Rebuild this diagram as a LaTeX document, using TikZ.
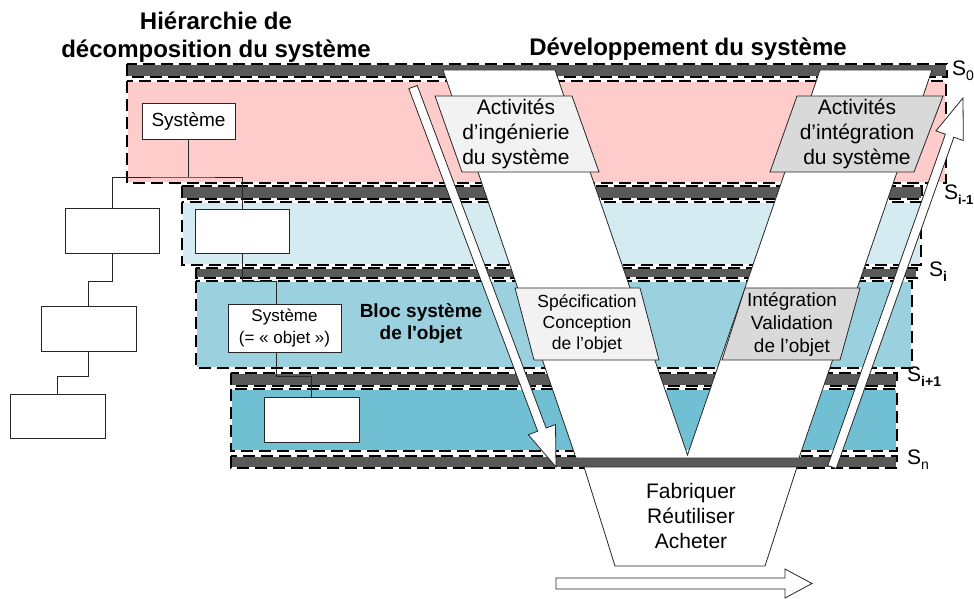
\documentclass[tikz,border=0pt]{standalone}
\usepackage{fontspec}
\setmainfont{Liberation Sans}[Ligatures=TeXOff]
\usetikzlibrary{calc}
\definecolor{bandgray}{RGB}{89,89,89}
\definecolor{pinkband}{RGB}{255,204,204}
\definecolor{lblue}{RGB}{211,235,241}
\definecolor{mblue}{RGB}{155,209,222}
\definecolor{dblue}{RGB}{113,191,210}
\definecolor{boxlight}{RGB}{242,242,242}
\definecolor{boxdark}{RGB}{217,217,217}
\newcommand{\myband}[5]{%
  \fill[#5] (#1,#2) rectangle (#3,#4);
  \draw[white,line width=2pt] (#1,#2) rectangle (#3,#4);
  \draw[black,line width=2pt,dash pattern=on 12pt off 6pt] (#1,#2) rectangle (#3,#4);
}
\newcommand{\mysub}[2]{\raisebox{-5pt}{\fontsize{#1}{#1}\selectfont #2}}
\begin{document}
\begin{tikzpicture}[x=1pt,y=-1pt,
  hbox/.style={draw=black!85,line width=0.8pt,fill=white,inner sep=0pt},
  shapeline/.style={draw=black!85,line width=0.8pt},
  hline/.style={draw=black!85,line width=0.8pt},
  txt/.style={inner sep=0pt,align=center},
  title/.style={txt,font=\fontsize{24}{28}\selectfont\bfseries},
  slab/.style={inner sep=0pt,anchor=west,font=\fontsize{21}{24}\selectfont}]
\useasboundingbox (0,0) rectangle (974,599);

% bands
\myband{127}{64}{947}{77}{bandgray}
\myband{127}{81}{946}{183}{pinkband}
\myband{182}{186}{922}{199}{bandgray}
\myband{182}{202}{921}{265}{lblue}
\myband{196}{268}{917}{278}{bandgray}
\myband{196}{281}{912}{368}{mblue}
\myband{231}{373}{897}{386}{bandgray}
\myband{231}{389}{897}{451}{dblue}
\myband{231}{456}{897}{468}{bandgray}

% V shape
\path[shapeline,fill=white] (443,70) -- (576,458) -- (799,458) -- (932,70) -- (820,70) -- (687.5,455) -- (555,70) -- cycle;

% bottom trapezoid
\path[shapeline,fill=white] (584,467) -- (797,467) -- (765,566) -- (615,566) -- cycle;
\node[txt,font=\fontsize{21}{25}\selectfont] (fab) at (691,516) {Fabriquer\\Réutiliser\\Acheter};

% parallelograms
\path[shapeline,fill=boxlight] (435,96) -- (572,96) -- (599,172) -- (462,172) -- cycle;
\node[txt,font=\fontsize{21}{25}\selectfont] (ingsys) at (516,134) {Activités\\d’ingénierie\\du système};
\path[shapeline,fill=boxdark] (797,96) -- (943,96) -- (914,172) -- (770,172) -- cycle;
\node[txt,font=\fontsize{21}{25}\selectfont] (intsys) at (857,134) {Activités\\d’intégration\\du système};
\path[shapeline,fill=boxlight] (515,288) -- (640,288) -- (659,360) -- (534,360) -- cycle;
\node[txt,font=\fontsize{17.5}{21}\selectfont] (specobj) at (587,324) {Spécification\\Conception\\de l’objet};
\path[shapeline,fill=boxdark] (745,288) -- (860,288) -- (840,360) -- (722,360) -- cycle;
\node[txt,font=\fontsize{19}{23}\selectfont] (intobj) at (792,324) {Intégration\\Validation\\de l’objet};

% hierarchy boxes
\node[hbox,minimum width=93pt,minimum height=36pt,font=\fontsize{19}{22}\selectfont] (sys) at (188.5,121) {Système};
\node[hbox,minimum width=94pt,minimum height=45pt] (L1) at (112,230.5) {};
\node[hbox,minimum width=94pt,minimum height=44pt] (R1) at (242,231) {};
\node[hbox,minimum width=95pt,minimum height=45pt] (L2) at (88.5,328.5) {};
\node[hbox,minimum width=95pt,minimum height=44pt] (L3) at (57.5,416) {};
\node[hbox,minimum width=113pt,minimum height=48pt,align=center,font=\fontsize{17}{22}\selectfont] (obj) at (284.5,328) {Système\\(= « objet »)};
\node[hbox,minimum width=95pt,minimum height=45pt] (R3) at (311.5,419.5) {};

\coordinate (j0) at (188.5,177);
\draw[hline] (sys.south) -- (j0);
\draw[hline] (L1.north) |- (j0) -| (R1.north);
\draw[hline] (L1.south) -- ++(0,28) -| (L2.north);
\draw[hline] (L2.south) -- ++(0,25) -| (L3.north);
\draw[hline] (R1.south) -- ++(0,28) -| ([xshift=-8.5pt]obj.north);
\draw[hline] ([xshift=-8.5pt]obj.south) -- ++(0,24) -| (R3.north);

\node[txt,font=\fontsize{19}{22}\selectfont\bfseries] (bloc) at (421,324) {Bloc système\\de l'objet};

% arrows
\path[shapeline,fill=white] (408.8,88.6) -- (417.2,85.4) -- (546.1,428.0) -- (555.5,424.5) -- (556,467) -- (528.3,434.7) -- (537.7,431.2) -- cycle;
\path[shapeline,fill=white] (827.8,465.5) -- (836.2,468.5) -- (953.9,137.2) -- (963.3,140.6) -- (963,98) -- (935.9,130.9) -- (945.4,134.2) -- cycle;
\path[shapeline,fill=white] (556,578) -- (785,578) -- (785,569) -- (812,583.5) -- (785,598) -- (785,589) -- (556,589) -- cycle;

% titles
\node[title] (t1) at (216,37) {Hiérarchie de\\décomposition du système};
\node[title] (t2) at (688,49) {Développement du système};

% S labels
\node[slab] (s0) at (952,71) {S\mysub{14}{0}};
\node[slab] (si1) at (944,195) {S\mysub{13}{\bfseries i-1}};
\node[slab] (si) at (929,272) {S\mysub{14}{\bfseries i}};
\node[slab] (sip) at (907,377) {S\mysub{14}{\bfseries i+1}};
\node[slab] (sn) at (907,460) {S\mysub{14}{n}};
\end{tikzpicture}
\end{document}
